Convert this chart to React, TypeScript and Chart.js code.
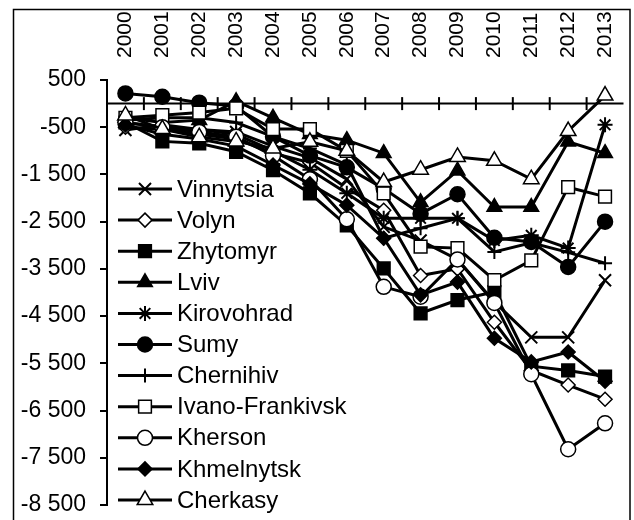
import React, { useEffect, useRef } from 'react';
import { Chart, registerables } from 'chart.js';
import { drawPoint } from 'chart.js/helpers';

Chart.register(...registerables);

const years = ['2000', '2001', '2002', '2003', '2004', '2005', '2006', '2007', '2008', '2009', '2010', '2011', '2012', '2013'];

const vinnytsia = [-560, -450, -550, -600, -900, -1150, -1600, -2610, -2900, -3300, -4200, -4950, -4950, -3740];
const volyn = [-500, -550, -650, -750, -1050, -1250, -1790, -2260, -3640, -3500, -4630, -5650, -5960, -6260];
const zhytomyr = [-400, -800, -840, -1020, -1410, -1900, -2580, -3490, -4440, -4160, -3990, -5560, -5650, -5780];
const lviv = [-300, -400, -350, 50, -300, -650, -775, -1050, -2090, -1420, -2190, -2190, -810, -1050];
const kirovohrad = [-400, -500, -550, -650, -1000, -1400, -1900, -2430, -2430, -2430, -2900, -2790, -3060, -450];
const sumy = [215, 145, 20, -50, -700, -1100, -1350, -1800, -2330, -1920, -2840, -2930, -3460, -2500];
const chernihiv = [-350, -300, -300, -400, -700, -950, -1300, -2850, -2640, -2430, -3140, -2950, -3150, -3380];
const ivanoFrankivsk = [-300, -245, -190, -100, -540, -540, -1000, -1900, -3030, -3060, -3740, -3320, -1770, -1970];
const kherson = [-400, -500, -600, -700, -1100, -1600, -2450, -3880, -4090, -3300, -4220, -5730, -7320, -6770];
const khmelnytsk = [-450, -650, -750, -900, -1300, -1700, -2150, -2850, -4050, -3780, -4970, -5470, -5260, -5880];
const cherkasy = [-250, -540, -710, -800, -950, -810, -1000, -1660, -1400, -1130, -1210, -1600, -580, 170];

const seriesNames = ['Vinnytsia', 'Volyn', 'Zhytomyr', 'Lviv', 'Kirovohrad', 'Sumy', 'Chernihiv', 'Ivano-Frankivsk', 'Kherson', 'Khmelnytsk', 'Cherkasy'];
const seriesValues = [vinnytsia, volyn, zhytomyr, lviv, kirovohrad, sumy, chernihiv, ivanoFrankivsk, kherson, khmelnytsk, cherkasy];

const yMin = -8500;
const yMax = 500;
const yStep = 1000;

const FONT = "'Liberation Sans', Arial, sans-serif";
const X_FONT_SIZE = 21;
const X_LINE_HEIGHT = 1.2;

type MarkerStyle = { style: string; fill: string; radius: number; bw: number };
const markers: MarkerStyle[] = [
  { style: 'crossRot', fill: '#000', radius: 8.5, bw: 2 },
  { style: 'rectRot', fill: '#fff', radius: 7, bw: 1.5 },
  { style: 'rect', fill: '#000', radius: 9, bw: 1.5 },
  { style: 'triangle', fill: '#000', radius: 8.5, bw: 1.5 },
  { style: 'star', fill: '#000', radius: 7.5, bw: 2 },
  { style: 'circle', fill: '#000', radius: 7.5, bw: 1.5 },
  { style: 'cross', fill: '#000', radius: 7, bw: 2 },
  { style: 'rect', fill: '#fff', radius: 9, bw: 1.5 },
  { style: 'circle', fill: '#fff', radius: 7.5, bw: 1.5 },
  { style: 'rectRot', fill: '#000', radius: 7, bw: 1.5 },
  { style: 'triangle', fill: '#fff', radius: 9, bw: 1.5 },
];

function fmt(v: number): string {
  const n = Math.round(Math.abs(v));
  const s = n.toString().replace(/\B(?=(\d{3})+(?!\d))/g, ' ');
  return (v < 0 ? '-' : '') + s;
}

const decorPlugin = {
  id: 'decor',
  beforeDatasetsDraw(chart: any) {
    const { ctx, chartArea, scales } = chart;
    const y0 = scales.y.getPixelForValue(0);
    ctx.save();
    ctx.strokeStyle = '#000';
    ctx.lineWidth = 2;
    ctx.beginPath();
    ctx.moveTo(chartArea.left, y0);
    ctx.lineTo(chartArea.right, y0);
    ctx.stroke();
    const xs = scales.x;
    for (let i = 0; i < years.length - 1; i++) {
      const xm = (xs.getPixelForValue(i) + xs.getPixelForValue(i + 1)) / 2;
      ctx.beginPath();
      ctx.moveTo(xm, y0 - 6.5);
      ctx.lineTo(xm, y0 + 6.5);
      ctx.stroke();
    }
    ctx.restore();
  },
  afterDraw(chart: any) {
    const { ctx } = chart;
    ctx.save();
    ctx.strokeStyle = '#000';
    ctx.lineWidth = 1.5;
    ctx.beginPath();
    ctx.moveTo(13.5, 540);
    ctx.lineTo(13.5, 9.5);
    ctx.lineTo(630, 9.5);
    ctx.lineTo(630, 540);
    ctx.stroke();
    ctx.font = `24px ${FONT}`;
    ctx.textBaseline = 'middle';
    ctx.textAlign = 'left';
    for (let i = 0; i < seriesNames.length; i++) {
      const y = 189 + 31.1 * i;
      ctx.strokeStyle = '#000';
      ctx.lineWidth = 3;
      ctx.beginPath();
      ctx.moveTo(118, y);
      ctx.lineTo(172, y);
      ctx.stroke();
      const m = markers[i];
      ctx.fillStyle = m.fill;
      ctx.strokeStyle = '#000';
      ctx.lineWidth = m.bw;
      drawPoint(ctx, { pointStyle: m.style, radius: m.radius, rotation: 0, borderWidth: m.bw } as any, 145, y);
      ctx.fillStyle = '#000';
      ctx.fillText(seriesNames[i], 177, y + 1);
    }
    ctx.restore();
  },
};

export default function App() {
  const ref = useRef<HTMLCanvasElement | null>(null);
  useEffect(() => {
    if (!ref.current) return;
    const datasets = seriesNames.map((name, i) => ({
      label: name,
      data: seriesValues[i],
      borderColor: '#000',
      backgroundColor: markers[i].fill,
      borderWidth: 3,
      pointStyle: markers[i].style as any,
      pointRadius: markers[i].radius,
      pointBorderWidth: markers[i].bw,
      pointBorderColor: '#000',
      pointBackgroundColor: markers[i].fill,
      tension: 0,
      fill: false,
      order: seriesNames.length - i,
    }));
    const chart = new Chart(ref.current, {
      type: 'line',
      data: { labels: years, datasets },
      options: {
        responsive: false,
        animation: false,
        devicePixelRatio: 1,
        layout: { padding: { left: 0, top: 0, right: 3, bottom: 15 } },
        plugins: { legend: { display: false }, tooltip: { enabled: false } },
        scales: {
          x: {
            position: 'top',
            offset: true,
            grid: { display: false, drawTicks: false },
            border: { display: false },
            ticks: {
              autoSkip: false,
              minRotation: 90,
              maxRotation: 90,
              padding: 22,
              labelOffset: X_FONT_SIZE * X_LINE_HEIGHT,
              color: '#000',
              font: { size: X_FONT_SIZE, family: FONT, lineHeight: X_LINE_HEIGHT },
            },
            afterFit: (s: any) => { s.height = 80; s.paddingLeft = 0; s.paddingRight = 0; },
          },
          y: {
            min: yMin,
            max: yMax,
            grid: { display: true, drawOnChartArea: false, drawTicks: true, tickLength: 7, color: '#000', lineWidth: 2 },
            border: { display: true, color: '#000', width: 2 },
            ticks: {
              stepSize: yStep,
              padding: 14,
              color: '#000',
              font: { size: 23, family: FONT },
              callback: (v: any) => fmt(Number(v)),
            },
            afterFit: (s: any) => { s.width = 107; s.paddingTop = 0; s.paddingBottom = 0; },
          },
        },
      },
      plugins: [decorPlugin],
    });
    return () => chart.destroy();
  }, []);
  return (
    <div style={{ position: 'absolute', left: 0, top: 0, width: 634, height: 520, background: '#fff' }}>
      <canvas ref={ref} width={634} height={520} />
    </div>
  );
}
